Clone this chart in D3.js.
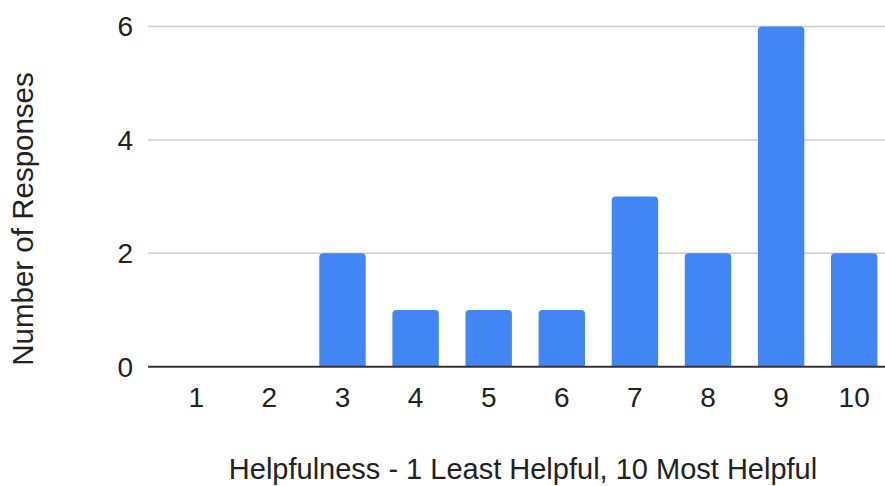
<!DOCTYPE html>
<html>
<head>
<meta charset="utf-8">
<script src="https://cdn.jsdelivr.net/npm/d3@7"></script>
<style>
  html, body { margin: 0; padding: 0; background: #fff; }
  svg { display: block; font-family: "Liberation Sans", Arial, sans-serif; }
</style>
</head>
<body>
<svg id="chart" width="885" height="486"></svg>
<script>
// Survey ratings and how many responses each received
const categories = ["1", "2", "3", "4", "5", "6", "7", "8", "9", "10"];
const responses = [0, 0, 2, 1, 1, 1, 3, 2, 6, 2];
const yTicks = [0, 2, 4, 6];
const xTitle = "Helpfulness - 1 Least Helpful, 10 Most Helpful";
const yTitle = "Number of Responses";

const svg = d3.select("#chart");
const gridLeft = 148, gridRight = 885;
const plotTop = 26.5, plotBase = 366.7;

const x = d3.scaleBand()
  .domain(categories)
  .range([159.75, 890.75])
  .paddingInner(0.365)
  .paddingOuter(0.1825);

const y = d3.scaleLinear().domain([0, 6]).range([plotBase, plotTop]);

// horizontal gridlines
svg.append("g")
  .selectAll("line")
  .data(yTicks.filter(d => d !== 0))
  .join("line")
  .attr("x1", gridLeft).attr("x2", gridRight)
  .attr("y1", d => y(d)).attr("y2", d => y(d))
  .attr("stroke", "#cccccc").attr("stroke-width", 1.5);

// y tick labels
svg.append("g")
  .selectAll("text")
  .data(yTicks)
  .join("text")
  .attr("x", 133)
  .attr("y", d => y(d))
  .attr("dy", "0.35em")
  .attr("text-anchor", "end")
  .attr("font-size", 28)
  .attr("fill", "#222")
  .text(d => d);

// bars with rounded top corners
const r = 4;
function barPath(d, i) {
  const x0 = x(categories[i]), w = x.bandwidth();
  const yt = y(d), yb = y(0);
  if (yb - yt <= 0) return null;
  const rr = Math.min(r, (yb - yt));
  return `M${x0},${yb}V${yt + rr}Q${x0},${yt} ${x0 + rr},${yt}H${x0 + w - rr}Q${x0 + w},${yt} ${x0 + w},${yt + rr}V${yb}Z`;
}
svg.append("g")
  .selectAll("path")
  .data(responses)
  .join("path")
  .attr("d", (d, i) => barPath(d, i))
  .attr("fill", "#4285f4");

// baseline
svg.append("line")
  .attr("x1", gridLeft).attr("x2", gridRight)
  .attr("y1", y(0)).attr("y2", y(0))
  .attr("stroke", "#333333").attr("stroke-width", 2);

// x tick labels
svg.append("g")
  .selectAll("text")
  .data(categories)
  .join("text")
  .attr("x", d => x(d) + x.bandwidth() / 2)
  .attr("y", 397)
  .attr("dy", "0.35em")
  .attr("text-anchor", "middle")
  .attr("font-size", 28)
  .attr("fill", "#222")
  .text(d => d);

// axis titles
svg.append("text")
  .attr("x", 523)
  .attr("y", 469)
  .attr("dy", "0.35em")
  .attr("text-anchor", "middle")
  .attr("font-size", 29)
  .attr("fill", "#222")
  .text(xTitle);

svg.append("text")
  .attr("transform", "translate(23,219) rotate(-90)")
  .attr("dy", "0.35em")
  .attr("text-anchor", "middle")
  .attr("font-size", 29.5)
  .attr("fill", "#222")
  .text(yTitle);
</script>
</body>
</html>
